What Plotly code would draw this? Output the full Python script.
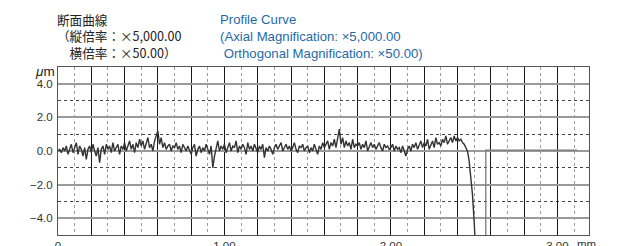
import plotly.graph_objects as go

# ---- data ----
x_start = 0.0
x_step = 0.01  # mm sampling interval of the profile
profile_um = [
    0.0, 0.1, -0.1, 0.2, 0.0, 0.3, -0.2, 0.1, 0.4, -0.1,
    0.2, 0.5, -0.2, 0.3, 0.1, -0.3, 0.2, -0.5, 0.1, 0.3,
    -0.1, 0.4, 0.0, -0.3, 0.2, -0.7, 0.1, 0.3, -0.2, 0.4,
    0.1, 0.3, -0.1, 0.5, 0.0, 0.2, 0.4, -0.2, 0.3, 0.1,
    0.5, 0.0, 0.3, 0.6, 0.1, 0.4, -0.1, 0.5, 0.2, 0.7,
    0.3, 0.6, 0.1, 0.5, 0.8, 0.2, 0.4, 0.0, 0.6, 0.9,
    1.2, 0.4, 0.8, 0.2, 0.5, 0.1, 0.3, 0.4, 0.0, 0.3,
    0.2, 0.5, 0.1, 0.3, -0.1, 0.4, 0.2, 0.0, 0.3, 0.1,
    -0.2, 0.2, 0.4, -0.3, 0.1, 0.3, -0.1, 0.2, 0.0, 0.4,
    0.1, -0.2, 0.3, -1.0, -0.3, 0.2, 0.6, 0.0, 0.3, 0.1,
    0.4, -0.1, 0.2, 0.5, 0.0, 0.3, 0.2, 0.6, -0.1, 0.3,
    0.1, 0.4, 0.2, -0.2, 0.5, 0.1, 0.3, 0.0, 0.4, 0.2,
    -0.1, 0.3, 0.1, 0.4, -0.4, 0.2, 0.0, 0.3, 0.1, -0.2,
    0.2, 0.4, 0.1, 0.3, 0.5, 0.0, 0.2, 0.4, 0.1, 0.3,
    0.0, 0.2, 0.5, 0.1, -0.1, 0.3, 0.2, 0.4, 0.0, 0.2,
    0.3, -0.1, 0.2, 0.0, 0.4, 0.1, -0.2, 0.3, 0.1, 0.5,
    0.2, 0.4, 0.6, 0.1, 0.5, 0.3, 0.7, 0.2, 0.9, 1.3,
    0.4, 0.8, 0.2, 0.6, 0.3, 0.5, 0.1, 0.7, 0.2, 0.4,
    0.3, 0.5, 0.1, 0.4, 0.2, 0.6, 0.0, 0.3, 0.5, 0.2,
    0.4, 0.1, 0.3, 0.5, 0.2, 0.0, 0.4, 0.2, 0.3, 0.1,
    0.2, 0.4, 0.0, 0.3, 0.1, 0.2, -0.1, 0.3, 0.0, -0.3,
    0.1, 0.3, 0.0, 0.4, 0.2, 0.5, 0.1, 0.3, 0.6, 0.2,
    0.5, 0.3, 0.7, 0.1, 0.4, 0.6, 0.2, 0.8, 0.4, 0.5,
    0.3, 0.7, 0.5, 0.9, 0.4, 0.6, 0.8, 0.5, 0.9, 0.6,
    0.8, 0.6, 0.7, 0.5, 0.4, 0.2,
    0.0, -0.6, -1.5, -2.6, -4.2, -6.0,
]
profile_x = [round(x_start + i * x_step, 4) for i in range(len(profile_um))]

# flat reference segment after the edge
flat_x = [2.57, 2.57, 3.12]
flat_um = [-6.0, 0.05, 0.05]

x_range = [0, 3.19]
y_range = [-5, 5]
x_major = [0.0, 0.2, 0.4, 0.6, 0.8, 1.0, 1.2, 1.4, 1.6, 1.8, 2.0, 2.2, 2.4, 2.6, 2.8, 3.0]
x_major_text = ["0", "", "", "", "", "1.00", "", "", "", "", "2.00", "", "", "", "", "3.00"]
x_minor = [0.1, 0.3, 0.5, 0.7, 0.9, 1.1, 1.3, 1.5, 1.7, 1.9, 2.1, 2.3, 2.5, 2.7, 2.9, 3.1]
y_major = [-4, -2, 0, 2, 4]
y_major_text = ["−4.0", "−2.0", "0.0", "2.0", "4.0"]
y_minor = [-3, -1, 1, 3]

jp_title = ["断面曲線", "（縦倍率：×5,000.00", "　横倍率：×50.00）"]
en_title = ["Profile Curve", "(Axial Magnification: ×5,000.00", " Orthogonal Magnification: ×50.00)"]

LAT = "Liberation Sans, Arial, sans-serif"
JP = "Noto Sans CJK JP, sans-serif"
BLUE = "#1f6aa8"

# the page body has an 8px margin: figure is 612x238 placed at (8, 8)
fig = go.Figure()
fig.add_trace(go.Scatter(x=flat_x, y=flat_um, mode="lines",
                         line=dict(color="#7a7a7a", width=1.3), hoverinfo="skip"))
fig.add_trace(go.Scatter(x=profile_x, y=profile_um, mode="lines",
                         line=dict(color="#333333", width=1.4), hoverinfo="skip"))

fig.update_layout(
    width=612, height=238,
    margin=dict(l=50, r=31, t=59, b=11, autoexpand=False),
    paper_bgcolor="white", plot_bgcolor="white",
    showlegend=False,
    xaxis=dict(range=x_range, tickmode="array", tickvals=x_major, ticktext=x_major_text,
               automargin=False,
               showgrid=True, gridcolor="#1a1a1a", gridwidth=1, zeroline=False,
               showline=True, linecolor="#555555", linewidth=1, mirror=True,
               ticks="", tickfont=dict(family=LAT, size=11.5, color="#333333"),
               minor=dict(tickmode="array", tickvals=x_minor, showgrid=True,
                          gridcolor="#9a9a9a", griddash="dot", gridwidth=1)),
    yaxis=dict(range=y_range, tickmode="array", tickvals=y_major, ticktext=y_major_text,
               automargin=False,
               showgrid=True, gridcolor="#9a9a9a", gridwidth=2, zeroline=False,
               showline=True, linecolor="#555555", linewidth=1, mirror=True,
               ticks="", ticklabelstandoff=2,
               tickfont=dict(family=LAT, size=11.5, color="#333333"),
               minor=dict(tickmode="array", tickvals=y_minor, showgrid=True,
                          gridcolor="#444444", griddash="dot", gridwidth=1)),
)

# page-pixel placement helper (plot area spans x 58..589, y 67..235 on the page)
def ann(text, x_px, y_px, color, family, size, xanchor="left", yanchor="middle"):
    fig.add_annotation(text=text, xref="paper", yref="paper",
                       x=(x_px - 58) / 531, y=(235 - y_px) / 168,
                       xanchor=xanchor, yanchor=yanchor, showarrow=False, align="left",
                       font=dict(family=family, size=size, color=color))

ann("<br>".join(jp_title), 55, 36.5, "#222222", JP, 12.6)
ann("<br>".join(en_title), 218, 37, BLUE, LAT, 13.2)
ann("<i>μ</i>m", 57, 71, "#222222", LAT, 13.5, xanchor="right")
ann("mm", 575, 243.5, "#333333", LAT, 11.5)

fig.write_html("out.html")
